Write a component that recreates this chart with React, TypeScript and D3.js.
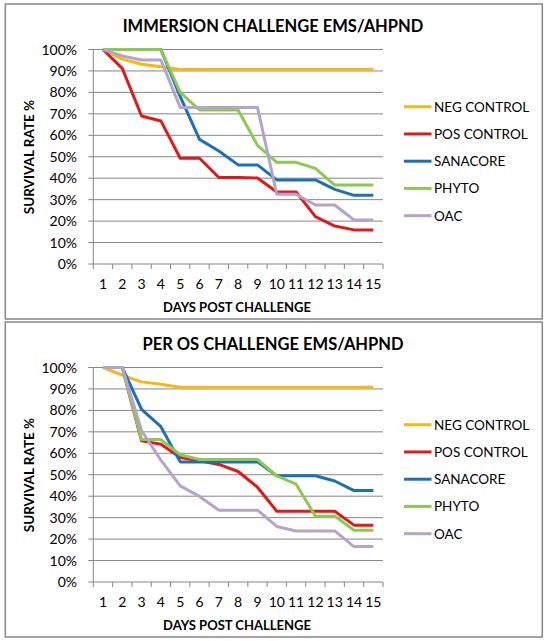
import React from "react";
import * as d3 from "d3";

const DAYS = ["1", "2", "3", "4", "5", "6", "7", "8", "9", "10", "11", "12", "13", "14", "15"];
const Y_TICKS = [0, 10, 20, 30, 40, 50, 60, 70, 80, 90, 100];
const SERIES_NAMES = ["NEG CONTROL", "POS CONTROL", "SANACORE", "PHYTO", "OAC"];
const SERIES_COLORS = ["#F4B915", "#DE1B1B", "#1D70B7", "#8DC952", "#B3A4CC"];

// Immersion challenge
const IMM_NEG = [100, 95.5, 93.1, 92, 90.7, 90.7, 90.7, 90.7, 90.7, 90.7, 90.7, 90.7, 90.7, 90.7, 90.7];
const IMM_POS = [100, 91.2, 69, 66.7, 49.3, 49.3, 40.3, 40.3, 40.1, 33.6, 33.6, 22.1, 17.7, 15.9, 15.9];
const IMM_SANA = [100, 100, 100, 100, 78, 58.1, 52.7, 46.2, 46.2, 39.2, 39.2, 39.2, 34.8, 32.0, 32.0];
const IMM_PHYTO = [100, 100, 100, 100, 80, 71.8, 71.8, 71.8, 55.3, 47.4, 47.4, 44.6, 36.8, 36.8, 36.8];
const IMM_OAC = [100, 97, 95.1, 95.1, 73, 73, 73, 73, 73, 32.5, 32.5, 27.5, 27.5, 20.5, 20.5];

// Per os challenge
const OS_NEG = [100, 96.4, 93.3, 92.2, 90.8, 90.8, 90.8, 90.8, 90.8, 90.8, 90.8, 90.8, 90.8, 90.8, 90.8];
const OS_POS = [100, 100, 65.8, 64.2, 58, 56.5, 54.8, 51.5, 44.2, 33, 33, 33, 33, 26.5, 26.5];
const OS_SANA = [100, 100, 80.5, 72.4, 56, 56, 56, 56, 56, 49.5, 49.5, 49.5, 47.1, 42.6, 42.6];
const OS_PHYTO = [100, 100, 66.4, 66.4, 59.3, 57.1, 57.1, 57.1, 57.1, 49.5, 45.6, 30.7, 30.7, 24.1, 24.1];
const OS_OAC = [100, 100, 70.5, 56.8, 44.8, 39.9, 33.5, 33.5, 33.5, 25.9, 23.8, 23.8, 23.8, 16.5, 16.5];

const FONT = "Lato, 'Open Sans', sans-serif";
const GRID = "#868686";

type ChartProps = { title: string; series: number[][]; top: number };

function Chart({ title, series, top }: ChartProps) {
  const plotLeft = 93.3;
  const plotRight = 383;
  const plotTop = top + 45.5;
  const plotBottom = top + 260;
  const x = d3.scaleBand<string>().domain(DAYS).range([plotLeft, plotRight]);
  const y = d3.scaleLinear().domain([0, 100]).range([plotBottom, plotTop]);
  const cx = (d: string) => (x(d) as number) + x.bandwidth() / 2;
  const line = d3
    .line<number>()
    .x((_, i) => cx(DAYS[i]))
    .y((v) => y(v));
  const tickXs = DAYS.map((d) => x(d) as number).concat([plotRight]);
  const legendX1 = 404;
  const legendX2 = 431.5;
  const legendY0 = top + 102.7;
  const legendStep = 27.25;

  return (
    <g>
      <rect x={5.3} y={top} width={537} height={315} fill="#fff" stroke={GRID} strokeWidth={1.5} />
      <text x={273} y={top + 28} textAnchor="middle" fontFamily={FONT} fontWeight="bold" fontSize={16.5} fill="#000">
        {title}
      </text>
      {Y_TICKS.map((t) => (
        <g key={t}>
          <line x1={plotLeft - 5} x2={plotRight} y1={y(t)} y2={y(t)} stroke={GRID} strokeWidth={1} />
          <text x={77} y={y(t) + 5} textAnchor="end" fontFamily={FONT} fontSize={14} fill="#000">
            {t + "%"}
          </text>
        </g>
      ))}
      <line x1={plotLeft} x2={plotLeft} y1={plotTop} y2={plotBottom} stroke={GRID} strokeWidth={1} />
      {tickXs.map((tx, i) => (
        <line key={i} x1={tx} x2={tx} y1={plotBottom} y2={plotBottom + 5} stroke={GRID} strokeWidth={1} />
      ))}
      {DAYS.map((d) => (
        <text key={d} x={cx(d)} y={plotBottom + 25} textAnchor="middle" fontFamily={FONT} fontSize={14} fill="#000">
          {d}
        </text>
      ))}
      <text x={237} y={plotBottom + 48} textAnchor="middle" fontFamily={FONT} fontWeight="bold" fontSize={13} fill="#000">
        DAYS POST CHALLENGE
      </text>
      <text
        transform={`translate(34, ${top + 153}) rotate(-90)`}
        textAnchor="middle"
        fontFamily={FONT}
        fontWeight="bold"
        fontSize={13.5}
        fill="#000"
      >
        SURVIVAL RATE %
      </text>
      {series.map((s, i) => (
        <path
          key={i}
          d={line(s) || ""}
          fill="none"
          stroke={SERIES_COLORS[i]}
          strokeWidth={3}
          strokeLinejoin="round"
        />
      ))}
      {SERIES_NAMES.map((name, i) => (
        <g key={name}>
          <line
            x1={legendX1}
            x2={legendX2}
            y1={legendY0 + i * legendStep}
            y2={legendY0 + i * legendStep}
            stroke={SERIES_COLORS[i]}
            strokeWidth={3}
          />
          <text x={434} y={legendY0 + i * legendStep + 5} fontFamily={FONT} fontSize={13.5} fill="#000">
            {name}
          </text>
        </g>
      ))}
    </g>
  );
}

export default function App() {
  return (
    <svg
      width={548}
      height={641}
      style={{ position: "absolute", left: 0, top: 0, background: "#fff" }}
    >
      <rect x={0} y={0} width={548} height={641} fill="#fff" />
      <Chart title="IMMERSION CHALLENGE EMS/AHPND" series={[IMM_NEG, IMM_POS, IMM_SANA, IMM_PHYTO, IMM_OAC]} top={4} />
      <Chart title="PER OS CHALLENGE EMS/AHPND" series={[OS_NEG, OS_POS, OS_SANA, OS_PHYTO, OS_OAC]} top={322} />
    </svg>
  );
}
